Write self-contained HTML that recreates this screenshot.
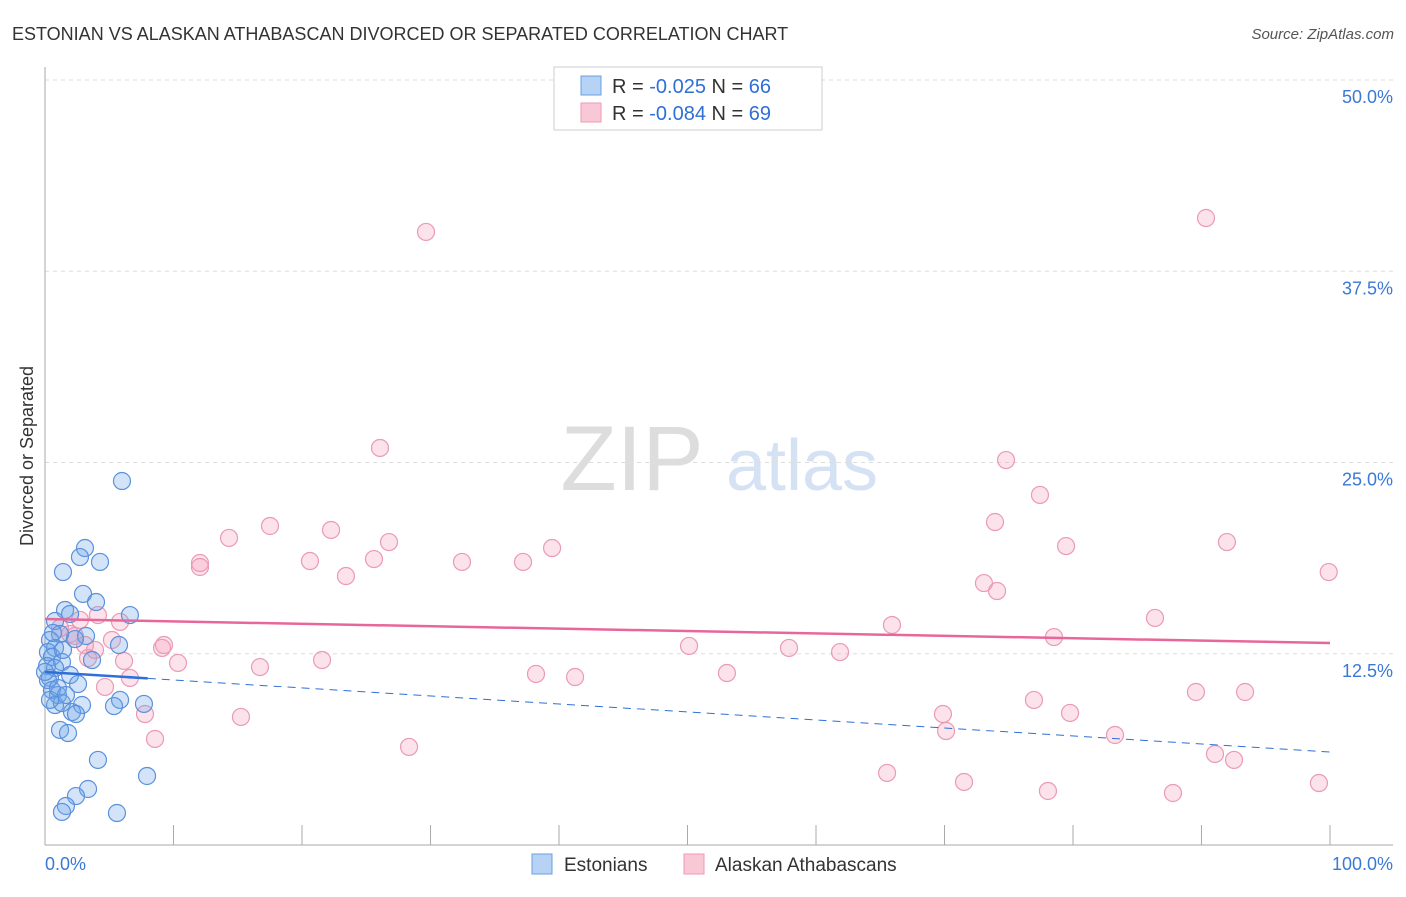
<!DOCTYPE html>
<html><head><meta charset="utf-8"><style>
body{margin:0;background:#fff;font-family:"Liberation Sans",sans-serif;}
svg text{font-family:"Liberation Sans",sans-serif;}
</style></head><body>
<svg id="c" width="1406" height="892">
<text x="12" y="40" font-size="18" fill="#333">ESTONIAN VS ALASKAN ATHABASCAN DIVORCED OR SEPARATED CORRELATION CHART</text>
<text x="1394" y="39" font-size="15" fill="#555" text-anchor="end" font-style="italic">Source: ZipAtlas.com</text>
<text x="33" y="456" font-size="18" fill="#333" text-anchor="middle" transform="rotate(-90 33 456)">Divorced or Separated</text>
<text x="632" y="490" font-size="92" fill="#ddd" font-family="Liberation Serif" text-anchor="middle">ZIP</text>
<text x="802" y="490" font-size="72" fill="#d4e2f4" text-anchor="middle">atlas</text>
<g id="grid"></g><g id="marks"></g>
<g>
<rect x="554" y="67" width="268" height="63" fill="#fff" stroke="#ccc"/>
<rect x="581" y="76" width="20" height="19" fill="#b6d3f5" stroke="#6a9fe0"/>
<rect x="581" y="103" width="20" height="19" fill="#f9c8d7" stroke="#ee9ab5"/>
<text x="612" y="93" font-size="20" fill="#333">R = <tspan fill="#2f6fd8">-0.025</tspan>   N = <tspan fill="#2f6fd8">66</tspan></text>
<text x="612" y="120" font-size="20" fill="#333">R = <tspan fill="#2f6fd8">-0.084</tspan>   N = <tspan fill="#2f6fd8">69</tspan></text>
</g>
<g>
<rect x="532" y="854" width="20" height="20" fill="#b6d3f5" stroke="#6a9fe0"/>
<text x="564" y="871" font-size="19" fill="#333">Estonians</text>
<rect x="684" y="854" width="20" height="20" fill="#f9c8d7" stroke="#ee9ab5"/>
<text x="715" y="871" font-size="19" fill="#333">Alaskan Athabascans</text>
</g>
</svg>
<script>
const yTicks=[12.5,25,37.5,50];
const yTickLabels=["12.5%","25.0%","37.5%","50.0%"];
const xTickLabels=["0.0%","100.0%"];
const estX=[5.99,3.11,2.72,4.28,1.40,2.96,3.97,1.56,1.95,6.61,0.78,3.19,2.33,1.17,0.39,0.78,0.23,0.54,1.32,3.66,0.16,0.78,1.95,0.39,2.57,0.54,1.01,5.84,2.88,0.78,1.32,7.70,5.37,2.10,2.41,1.17,1.79,4.12,7.94,3.35,2.41,1.63,1.32,5.60,0.23,0.39,1.01,0,0.62,1.63,5.76,1.40];
const estY=[23.79,19.41,18.82,18.50,17.84,16.41,15.88,15.36,15.10,15.03,14.64,13.66,13.46,13.79,13.40,12.88,12.61,12.29,11.96,12.09,11.70,11.57,11.11,10.92,10.52,10.13,9.80,9.48,9.15,9.15,9.28,9.22,9.08,8.69,8.56,7.52,7.32,5.56,4.51,3.66,3.20,2.55,2.16,2.09,10.78,9.48,10.26,11.31,13.86,9.80,13.07,12.75];
const alaX=[29.65,90.35,26.07,74.79,77.43,17.51,22.26,73.93,14.32,26.77,39.46,91.98,79.46,12.06,12.06,20.62,32.45,37.20,25.60,23.42,99.9,73.07,74.09,4.12,2.72,5.84,86.38,65.91,1.95,5.21,9.26,9.11,78.52,50.12,57.90,61.87,3.89,3.35,6.15,10.35,21.56,16.73,38.21,53.07,41.25,6.61,4.67,89.57,93.39,76.96,79.77,69.88,15.25,7.78,70.12,83.27,8.56,28.33,91.05,92.53,65.53,71.52,78.05,87.78,99.14,2.33,1.17,3.11];
const alaY=[40.07,40.98,25.95,25.16,22.88,20.85,20.59,21.11,20.07,19.80,19.41,19.80,19.54,18.43,18.17,18.56,18.50,18.50,18.69,17.58,17.84,17.12,16.60,15.03,14.71,14.58,14.84,14.38,13.79,13.40,13.07,12.88,13.59,13.01,12.88,12.61,12.75,12.22,12.03,11.90,12.09,11.63,11.18,11.24,10.98,10.92,10.33,10.00,10.00,9.48,8.63,8.56,8.37,8.56,7.45,7.19,6.93,6.41,5.95,5.56,4.71,4.12,3.53,3.40,4.05,13.66,14.18,13.07];
const estTrend=[11.31,6.08];
const alaTrend=[14.77,13.20];
const NS="http://www.w3.org/2000/svg";
const X=v=>45+v*12.85, Y=v=>845-v*15.3;
function mk(p,t,a){const e=document.createElementNS(NS,t);for(const k in a)e.setAttribute(k,a[k]);p.appendChild(e);return e;}
const g=document.getElementById('grid'),m=document.getElementById('marks');
yTicks.forEach((t,i)=>{
 const l=mk(g,'line',{x1:45,x2:1393,y1:Y(t),y2:Y(t),stroke:'#ddd','stroke-dasharray':'4 4'});
 
 
 const tx=mk(g,'text',{x:1393,y:Y(t)+23,'font-size':18,fill:'#3a78d8','text-anchor':'end'});
 tx.textContent=yTickLabels[i];
 
 
});
mk(g,'line',{x1:45,x2:45,y1:67,y2:845,stroke:'#aaa'});
mk(g,'line',{x1:45,x2:1393,y1:845,y2:845,stroke:'#aaa'});
for(let i=1;i<=10;i++){const t=mk(g,'line',{x1:X(i*10),x2:X(i*10),y1:825,y2:845,stroke:'#aaa'});
 
 }
[[0,'start',45],[100,'end',1393]].forEach((d,i)=>{const t=mk(g,'text',{x:d[2],y:870,'font-size':18,fill:'#3a78d8','text-anchor':d[1]});t.textContent=xTickLabels[i];
 
 });
alaX.forEach((x,i)=>{const c=mk(m,'circle',{cx:X(x),cy:Y(alaY[i]),r:8.5,fill:'rgba(244,160,188,0.3)',stroke:'#eb9ab4','stroke-width':1.2});
 
 });
estX.forEach((x,i)=>{const c=mk(m,'circle',{cx:X(x),cy:Y(estY[i]),r:8.5,fill:'rgba(110,165,232,0.3)',stroke:'#5b90dc','stroke-width':1.2});
 
 });
const at=mk(m,'line',{x1:X(0),x2:X(100),y1:Y(alaTrend[0]),y2:Y(alaTrend[1]),stroke:'#e8679a','stroke-width':2.5});


const ey=v=>estTrend[0]+(estTrend[1]-estTrend[0])*v/100;
const es=mk(m,'line',{x1:X(0),x2:X(8),y1:Y(ey(0)),y2:Y(ey(8)),stroke:'#2f6fd8','stroke-width':2.5});


const ed=mk(m,'line',{x1:X(8),x2:X(100),y1:Y(ey(8)),y2:Y(ey(100)),stroke:'#2f6fd8','stroke-width':1,'stroke-dasharray':'8 6'});


</script>
</body></html>
